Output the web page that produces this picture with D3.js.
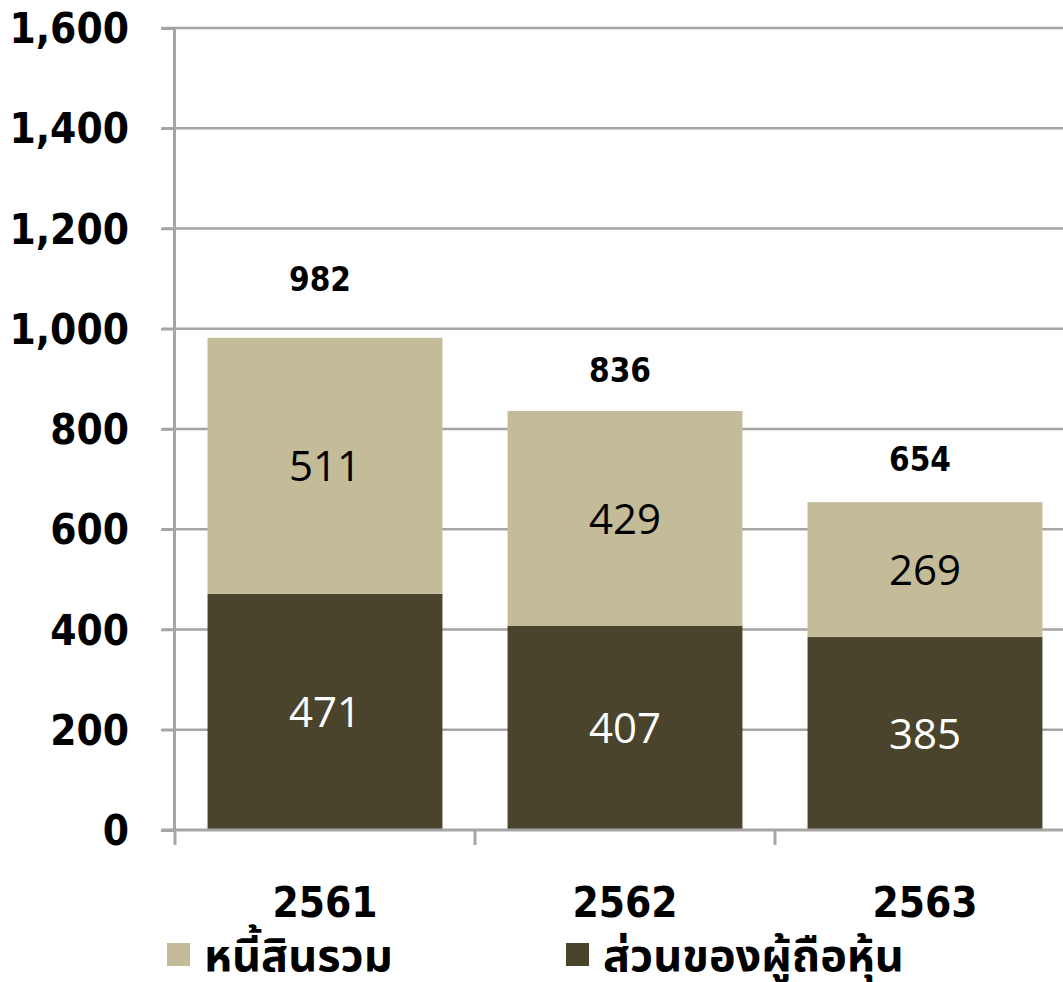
<!DOCTYPE html>
<html lang="th">
<head>
<meta charset="utf-8">
<style>
  body { margin: 0; background: #fff; }
  svg { display: block; }
  .tick-label { font-family: Tahoma, "DejaVu Sans", sans-serif; font-weight: bold; font-stretch: condensed; fill: #000; }
</style>
</head>
<body>
<script src="https://cdn.jsdelivr.net/npm/d3@7"></script>
<script>
// data
var years = ["2561", "2562", "2563"];
var equity = [471, 407, 385];        // ส่วนของผู้ถือหุ้น (bottom)
var liabilities = [511, 429, 269];   // หนี้สินรวม (top)
var totals = [982, 836, 654];
var totalLabelAt = [1100, 918, 740]; // where the total labels sit
var yTicks = [0, 200, 400, 600, 800, 1000, 1200, 1400, 1600];
var seriesNames = ["หนี้สินรวม", "ส่วนของผู้ถือหุ้น"];
var colors = { light: "#c4bc99", dark: "#4a442d", grid: "#a5a5a5" };

var W = 1063, H = 982;
var svg = d3.select("body").append("svg").attr("width", W).attr("height", H);

var x = d3.scaleBand().domain(years).range([175, 1075])
    .paddingInner(0.217).paddingOuter(0.1085);
var y = d3.scaleLinear().domain([0, 1600]).range([830, 28]);

// gridlines
svg.append("g").selectAll("line").data(yTicks.slice(1)).enter().append("line")
    .attr("x1", 162).attr("x2", W)
    .attr("y1", function(d){ return y(d); }).attr("y2", function(d){ return y(d); })
    .attr("stroke", colors.grid).attr("stroke-width", 2.5);

// y axis
var yAxis = d3.axisLeft(y).tickValues(yTicks).tickSize(13).tickFormat(d3.format(","));
var gy = svg.append("g").attr("transform", "translate(174,0)").call(yAxis);
gy.select(".domain").attr("stroke", colors.grid).attr("stroke-width", 3);
gy.selectAll(".tick line").attr("stroke", colors.grid).attr("stroke-width", 2.5);
gy.selectAll(".tick text").attr("class", "tick-label")
    .attr("x", -45).attr("font-size", 42).attr("dy", "0.35em");

// bars
var stackData = years.map(function(yr, i){ return {year: yr, eq: equity[i], li: liabilities[i]}; });
svg.append("g").selectAll("rect").data(stackData).enter().append("rect")
    .attr("x", function(d){ return x(d.year); })
    .attr("width", x.bandwidth())
    .attr("y", function(d){ return y(d.eq); })
    .attr("height", function(d){ return y(0) - y(d.eq); })
    .attr("fill", colors.dark);
svg.append("g").selectAll("rect").data(stackData).enter().append("rect")
    .attr("x", function(d){ return x(d.year); })
    .attr("width", x.bandwidth())
    .attr("y", function(d){ return y(d.eq + d.li); })
    .attr("height", function(d){ return y(d.eq) - y(d.eq + d.li); })
    .attr("fill", colors.light);

// x axis line and category separators
svg.append("line").attr("x1", 162).attr("x2", W).attr("y1", y(0)).attr("y2", y(0))
    .attr("stroke", colors.grid).attr("stroke-width", 3);
function bandStart(d){ return x(d) - (x.step() - x.bandwidth()) / 2; }
svg.append("g").selectAll("line").data(years).enter().append("line")
    .attr("x1", bandStart).attr("x2", bandStart)
    .attr("y1", y(0)).attr("y2", y(0) + 15)
    .attr("stroke", colors.grid).attr("stroke-width", 3);

// category labels
svg.append("g").selectAll("text").data(years).enter().append("text")
    .attr("class", "tick-label")
    .attr("x", function(d){ return x(d) + x.bandwidth() / 2; })
    .attr("y", 917).attr("text-anchor", "middle").attr("font-size", 42)
    .text(function(d){ return d; });

// segment labels
var inner = "'Open Sans', Lato, sans-serif";
svg.append("g").selectAll("text").data(stackData).enter().append("text")
    .attr("x", function(d){ return x(d.year) + x.bandwidth() / 2; })
    .attr("y", function(d){ return y(d.eq / 2); })
    .attr("dy", "0.36em").attr("text-anchor", "middle")
    .attr("font-family", inner).attr("font-size", 42).attr("fill", "#fff")
    .text(function(d){ return d.eq; });
svg.append("g").selectAll("text").data(stackData).enter().append("text")
    .attr("x", function(d){ return x(d.year) + x.bandwidth() / 2; })
    .attr("y", function(d){ return y(d.eq + d.li / 2); })
    .attr("dy", "0.36em").attr("text-anchor", "middle")
    .attr("font-family", inner).attr("font-size", 42).attr("fill", "#000")
    .text(function(d){ return d.li; });

// totals
svg.append("g").selectAll("text").data(totals).enter().append("text")
    .attr("class", "tick-label")
    .attr("x", function(d, i){ return x(years[i]) + x.bandwidth() / 2 - 5; })
    .attr("y", function(d, i){ return y(totalLabelAt[i]); })
    .attr("dy", "0.36em").attr("text-anchor", "middle").attr("font-size", 33)
    .text(function(d){ return d; });

// legend
var legend = [
  {name: seriesNames[0], color: colors.light, x: 167},
  {name: seriesNames[1], color: colors.dark, x: 566}
];
var lg = svg.append("g").selectAll("g").data(legend).enter().append("g")
    .attr("transform", function(d){ return "translate(" + d.x + ",943)"; });
lg.append("rect").attr("width", 23).attr("height", 23).attr("fill", function(d){ return d.color; });
lg.append("text").attr("x", 37).attr("y", 28)
    .attr("font-family", "Tahoma, 'Noto Sans Thai', 'DejaVu Sans', sans-serif")
    .attr("font-weight", "bold").attr("font-size", 45)
    .text(function(d){ return d.name; });
</script>
</body>
</html>
